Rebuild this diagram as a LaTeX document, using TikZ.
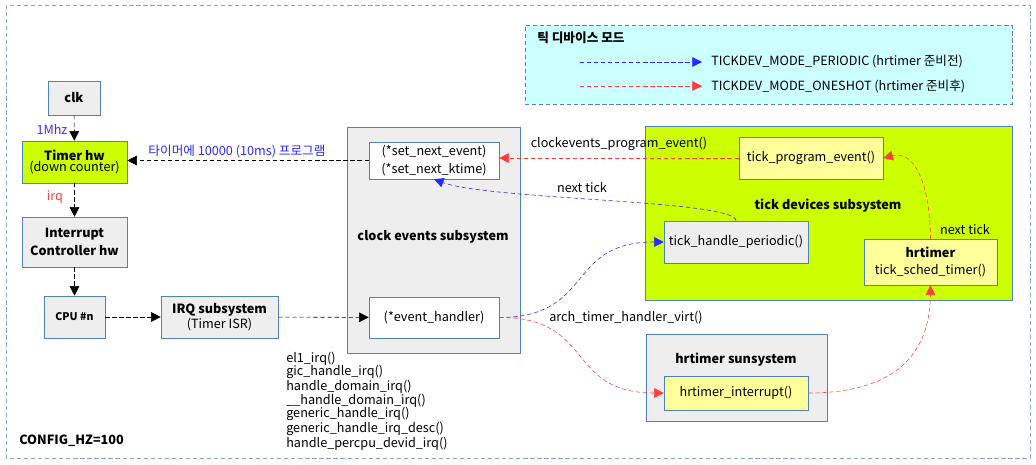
\documentclass[tikz,border=0pt]{standalone}
\usepackage{fontspec}
\setmainfont{Noto Sans CJK KR}
\usetikzlibrary{arrows.meta}
\definecolor{frameblue}{RGB}{79,129,189}
\definecolor{boxgray}{RGB}{238,238,238}
\definecolor{limegreen}{RGB}{204,255,0}
\definecolor{paleyellow}{RGB}{255,255,153}
\definecolor{palecyan}{RGB}{204,255,255}
\definecolor{periodicblue}{RGB}{40,40,255}
\definecolor{oneshotred}{RGB}{255,60,60}
\begin{document}
\begin{tikzpicture}[x=0.025cm,y=-0.025cm,
  box/.style={draw=frameblue,fill=boxgray,inner sep=0pt,align=center,font=\fontsize{9}{11}\selectfont},
  dim/.style 2 args={minimum width=#1*0.025cm,minimum height=#2*0.025cm},
  lbl/.style={inner sep=0pt,font=\fontsize{9}{11}\selectfont},
  tip/.style={-{Triangle[length=2.4mm,width=2.4mm]}},
  conn/.style={densely dashed,tip},
  periodic/.style={conn,draw=periodicblue},
  oneshot/.style={conn,draw=oneshotred}]
  \useasboundingbox (0,0) rectangle (1036,465);
  \draw[frameblue!70,densely dashed] (6,5) rectangle (1030,458);
  % legend
  \node[box,dim={487}{79},fill=palecyan,densely dashed] (legend) at (768.5,64.5) {};
  \node[lbl,anchor=west,font=\fontsize{9}{11}\selectfont\bfseries] (legtitle) at (537,38) {틱 디바이스 모드};
  \coordinate (pa) at (580,62);
  \coordinate (pb) at (702,62);
  \coordinate (oa) at (580,86);
  \coordinate (ob) at (702,86);
  \draw[periodic] (pa) -- (pb);
  \draw[oneshot] (oa) -- (ob);
  \node[lbl,anchor=west] (legp) at (711,62) {TICKDEV\_MODE\_PERIODIC (hrtimer 준비전)};
  \node[lbl,anchor=west] (lego) at (711,86) {TICKDEV\_MODE\_ONESHOT (hrtimer 준비후)};
  % hardware
  \node[box,dim={52}{34},font=\fontsize{9}{11}\selectfont\bfseries] (clk) at (74,98) {clk};
  \node[box,dim={105}{42},fill=limegreen] (timer) at (74.5,162) {\textbf{Timer hw}\\[-3pt](down counter)};
  \node[box,dim={105}{50},font=\fontsize{9}{13}\selectfont\bfseries] (intc) at (74.5,242) {Interrupt\\Controller hw};
  \node[box,dim={61}{42},font=\fontsize{7.5}{9}\selectfont\bfseries] (cpu) at (74.5,317) {CPU \#n};
  \node[box,dim={117}{42}] (irq) at (219.5,317) {\textbf{IRQ subsystem}\\(Timer ISR)};
  \draw[conn] (clk) -- (timer);
  \draw[conn] (timer) -- (intc);
  \draw[conn] (intc) -- (cpu);
  \draw[conn] (cpu) -- (irq);
  \node[lbl,text=periodicblue!80!magenta] (mhz) at (52,129) {1Mhz};
  \node[lbl,text=oneshotred] (irqlbl) at (55,197) {irq};
  % clock events
  \node[box,dim={173}{226}] (ces) at (433.5,240) {};
  \node[lbl,font=\fontsize{9}{11}\selectfont\bfseries] (cestitle) at (433,237) {clock events subsystem};
  \node[box,dim={130}{37},fill=white,font=\fontsize{9}{12.5}\selectfont] (setnext) at (434,160.5) {(*set\_next\_event)\\(*set\_next\_ktime)};
  \node[box,dim={130}{41},fill=white] (evh) at (434,317.5) {(*event\_handler)};
  \draw[conn] (setnext.west) -- (setnext.west -| timer.east);
  \draw[conn] (irq) -- (evh);
  \node[lbl,text=periodicblue] (prog) at (237,152) {타이머에 10000 (10ms) 프로그램};
  % tick devices
  \node[box,dim={367}{174},fill=limegreen] (tds) at (828.5,213) {};
  \node[lbl,font=\fontsize{9}{11}\selectfont\bfseries] (tdstitle) at (828,206) {tick devices subsystem};
  \node[box,dim={144}{42},fill=paleyellow] (tpe) at (811,158) {tick\_program\_event()};
  \node[box,dim={144}{42}] (thp) at (736,242) {tick\_handle\_periodic()};
  \node[box,dim={133}{46},fill=paleyellow,font=\fontsize{9}{12}\selectfont] (hrt) at (930.5,262) {\textbf{hrtimer}\\tick\_sched\_timer()};
  % hrtimer
  \node[box,dim={181}{87}] (hrs) at (736.5,377.5) {};
  \node[lbl,font=\fontsize{9}{11}\selectfont\bfseries] (hrstitle) at (736,360) {hrtimer sunsystem};
  \node[box,dim={144}{34},fill=paleyellow] (hri) at (736,393) {hrtimer\_interrupt()};
  % connectors
  \draw[oneshot] (tpe.west) -- (tpe.west -| setnext.east);
  \node[lbl] (cpe) at (619,144) {clockevents\_program\_event()};
  \draw[periodic] (thp.north) .. controls (736,200) and (490,200) .. (setnext.south);
  \node[lbl] (nt1) at (582,188) {next tick};
  \draw[periodic] (evh.east) .. controls (595,317) and (565,242) .. (thp.west);
  \draw[oneshot] (evh.east) .. controls (595,317) and (565,393) .. (hri.west);
  \node[lbl] (atv) at (626,318) {arch\_timer\_handler\_virt()};
  \draw[oneshot] (hri.east) .. controls (905,393) and (930,345) .. (hrt.south);
  \draw[oneshot] (hrt.north) .. controls (930,185) and (915,150) .. (tpe.east);
  \node[lbl] (nt2) at (965,230) {next tick};
  % irq path
  \node[lbl,anchor=north west,align=left,font=\fontsize{9}{9.5}\selectfont] (calls) at (286,352)
    {el1\_irq()\\gic\_handle\_irq()\\handle\_domain\_irq()\\\_\_handle\_domain\_irq()\\generic\_handle\_irq()\\generic\_handle\_irq\_desc()\\handle\_percpu\_devid\_irq()};
  \node[lbl,anchor=west,font=\fontsize{9}{10}\selectfont\bfseries] (hz) at (19,441) {CONFIG\_HZ=100};
\end{tikzpicture}
\end{document}
